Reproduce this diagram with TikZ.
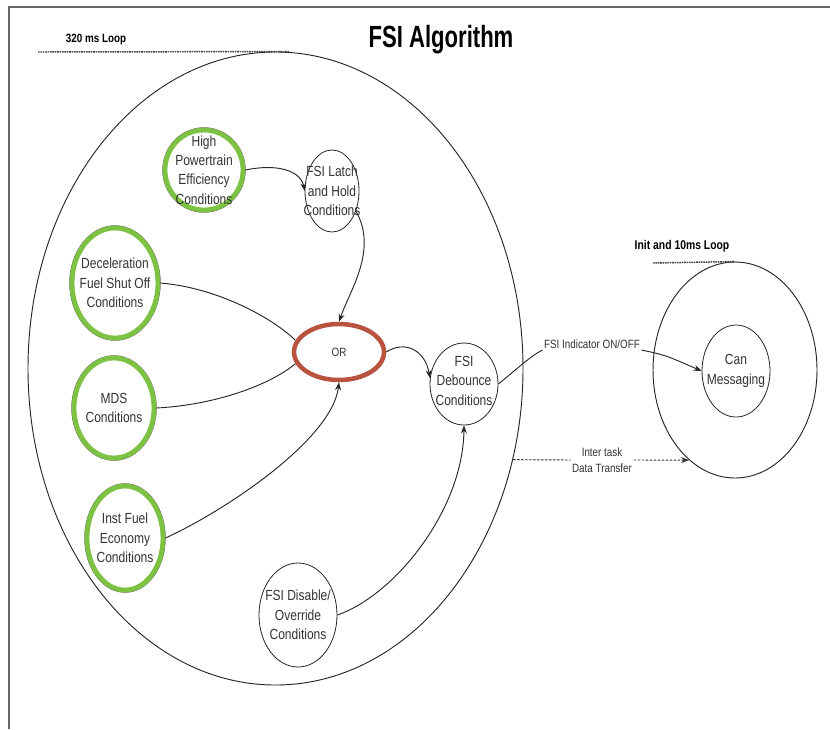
\documentclass[tikz,border=0pt]{standalone}
\usepackage{fontspec}
\setmainfont{Liberation Sans}[FakeStretch=0.82]
\newfontfamily\titlefont{Liberation Sans}[FakeStretch=0.72]
\usetikzlibrary{shapes.geometric,arrows.meta,shadows}
\definecolor{fsigreen}{HTML}{7DC242}
\definecolor{fsired}{HTML}{B9533F}
\definecolor{txtgray}{HTML}{333333}
\begin{document}
\begin{tikzpicture}[x=0.75pt,y=-0.75pt,
  txt/.style={font=\fontsize{11}{14.5}\selectfont, text=txtgray, align=center, inner sep=0pt},
  smalltxt/.style={font=\fontsize{9}{12}\selectfont, text=txtgray, align=center},
  boldtxt/.style={font=\bfseries\fontsize{9.5}{12}\selectfont, text=black},
  bubble/.style={ellipse, draw=black!85, line width=0.6pt, fill=white, inner sep=0pt},
  greenb/.style={ellipse, draw=fsigreen, line width=3.6pt, fill=white, inner sep=0pt,
     preaction={draw=black!60, line width=4.1pt},
     drop shadow={opacity=0.3, shadow xshift=1.2pt, shadow yshift=-1.5pt}},
  redb/.style={ellipse, draw=fsired, line width=3.4pt, fill=white, inner sep=0pt,
     drop shadow={opacity=0.3, shadow xshift=1.2pt, shadow yshift=-1.5pt}},
  conn/.style={draw=black!85, line width=0.7pt},
  arr/.style={conn, -{Stealth[length=6pt,width=4.5pt]}},
  dashl/.style={draw=black!80, line width=0.7pt, dash pattern=on 2pt off 1pt},
  loopl/.style={draw=black!75, line width=1.1pt, dash pattern=on 1.2pt off 0.6pt},
  framel/.style={draw=black!60, line width=1.5pt}]
\useasboundingbox (0,0) rectangle (830,729);
\draw[framel] (9,729) -- (9,7) -- (830,7);

% titles
\node[font=\titlefont\bfseries\fontsize{23}{26}\selectfont] (title) at (441,40) {FSI Algorithm};
\node[boldtxt, font=\bfseries\fontsize{9}{12}\selectfont] (loop320) at (96,40) {320 ms Loop};
\node[boldtxt] (loop10) at (682,246) {Init and 10ms Loop};

% big loop ellipse
\node[ellipse, draw=black!85, line width=0.7pt, inner sep=0pt,
      minimum width=371.25pt, minimum height=474.75pt] (big) at (275.5,368.5) {};
\coordinate (l320a) at (38,52);
\draw[loopl] (l320a) -- ([xshift=11pt]big.north);

% can messaging loop
\node[ellipse, draw=black!85, line width=0.7pt, inner sep=0pt,
      minimum width=123pt, minimum height=162pt] (canout) at (735,370) {};
\coordinate (l10a) at (653,263);
\draw[loopl] (l10a) -- (canout.north);
\node[bubble, minimum width=51pt, minimum height=69pt,
      label={[txt]center:Can\\Messaging}] (inner) at (736,371) {};

% condition bubbles
\node[greenb, minimum width=58.5pt, minimum height=60pt,
      label={[txt]center:High\\Powertrain\\Efficiency\\Conditions}] (hp) at (204,170) {};
\node[bubble, minimum width=40.5pt, minimum height=61.5pt,
      label={[txt]center:FSI Latch\\and Hold\\Conditions}] (latch) at (332,191) {};
\node[greenb, minimum width=64.5pt, minimum height=82.5pt,
      label={[txt]center:Deceleration\\Fuel Shut Off\\Conditions}] (decel) at (115,283) {};
\node[greenb, minimum width=60pt, minimum height=75pt,
      label={[txt]center:MDS\\Conditions}] (mds) at (114,408) {};
\node[greenb, minimum width=57pt, minimum height=78pt,
      label={[txt]center:Inst Fuel\\Economy\\Conditions}] (inst) at (125,538) {};
\node[redb, minimum width=67.5pt, minimum height=42pt,
      label={[txt, font=\fontsize{9}{12}\selectfont]center:OR}] (or) at (339,352) {};
\node[bubble, minimum width=51pt, minimum height=61.5pt,
      label={[txt, yshift=2.5pt]center:FSI\\Debounce\\Conditions}] (db) at (464,384) {};
\node[bubble, minimum width=58.5pt, minimum height=78pt,
      label={[txt]center:FSI Disable/\\Override\\Conditions}] (dis) at (298,615) {};

% connectors
\draw[arr] (hp.east) .. controls (285,162) and (302,175) .. (latch.west);
\draw[arr] (latch.-40) .. controls (378,250) and (350,290) .. (or.north);
\draw[conn] (decel.east) .. controls (220,288) and (275,320) .. (or.165);
\draw[conn] (mds.east) .. controls (215,405) and (270,385) .. (or.195);
\draw[arr] (inst.east) .. controls (223,512) and (332,440) .. (or.south);
\draw[arr] (or.east) .. controls (405,340) and (425,350) .. (db.170);
\draw[arr] (dis.east) .. controls (395,595) and (463,510) .. (db.south);

% indicator
\node[smalltxt, fill=white, inner sep=1pt] (ind) at (592,344) {FSI Indicator ON/OFF};
\draw[conn] (db.east) .. controls (518,368) and (532,355) .. (ind.south west);
\draw[arr] (ind.south east) .. controls (665,355) .. (inner.west);

% inter task
\node[smalltxt, fill=white, inner sep=1pt] (it) at (602,460) {Inter task\\Data Transfer};
\draw[dashl] (big.-21.2) -- (it.west);
\draw[dashl, -{Stealth[length=6pt,width=4.5pt]}] (it.east) -- (canout.243.4);
\end{tikzpicture}
\end{document}
